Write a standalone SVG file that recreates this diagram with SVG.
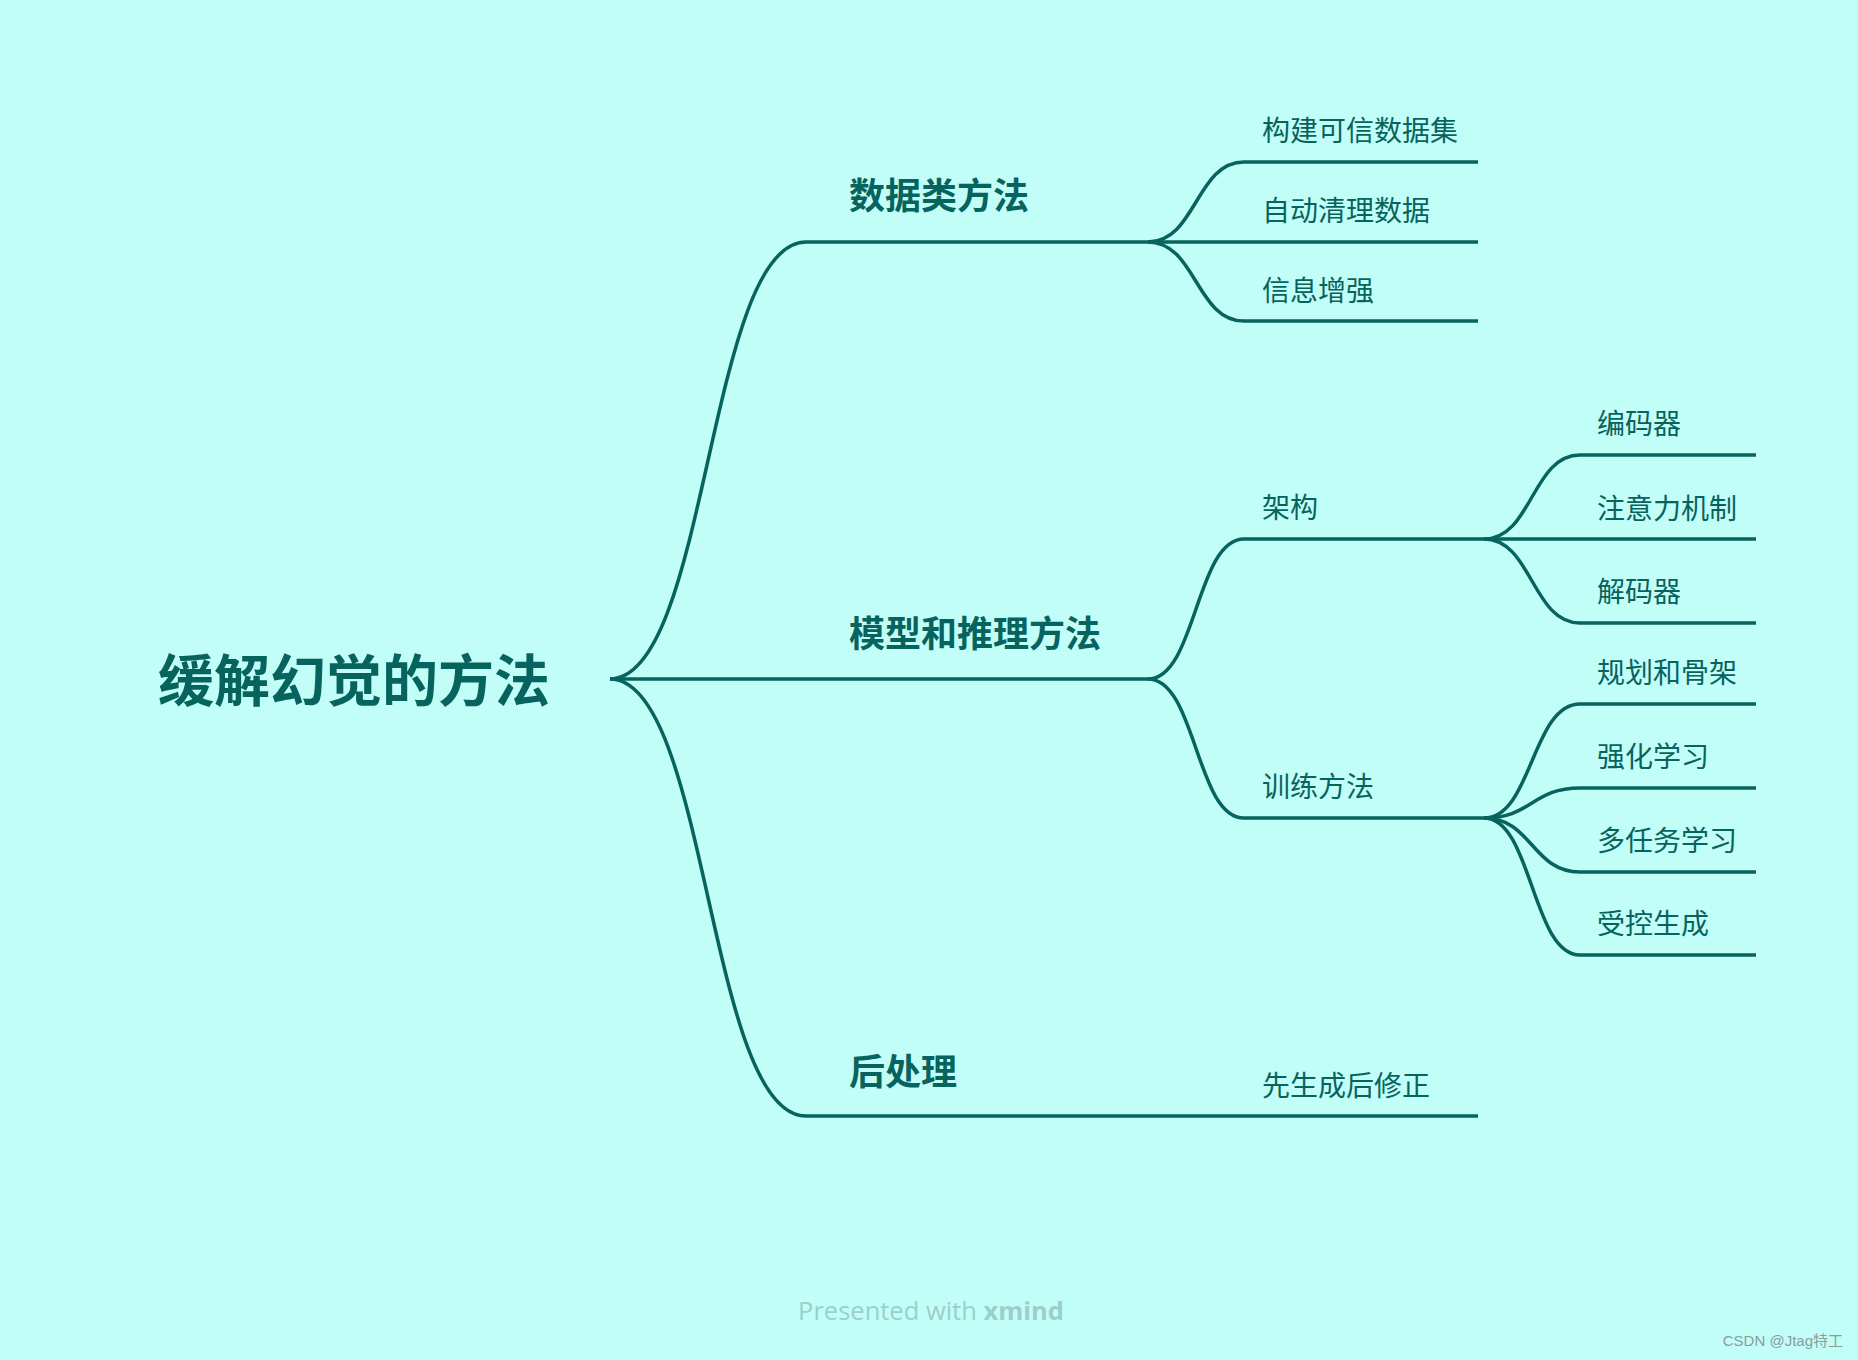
<svg xmlns="http://www.w3.org/2000/svg" width="1858" height="1360" viewBox="0 0 1858 1360">
<style>
.c{fill:none;stroke:#07635E;stroke-width:3.5;stroke-linecap:butt}
.t{font-family:"Noto Sans CJK SC","Noto Sans",sans-serif;fill:#07635E}
.root{font-size:56px;font-weight:700}
.m{font-size:36px;font-weight:700}
.s{font-size:28px;font-weight:400}
</style>
<rect width="1858" height="1360" fill="#C1FEF7"/>
<g id="connectors">
<path class="c" d="M610,679 C708,679 708,242 806,242 H1148"/>
<path class="c" d="M610,679 H1148"/>
<path class="c" d="M610,679 C708,679 708,1116 806,1116 H1478"/>
<path class="c" d="M1148,242 C1196,242 1196,162 1244,162 H1478"/>
<path class="c" d="M1148,242 H1478"/>
<path class="c" d="M1148,242 C1196,242 1196,321 1244,321 H1478"/>
<path class="c" d="M1148,679 C1196,679 1196,539 1244,539 H1484"/>
<path class="c" d="M1148,679 C1196,679 1196,818 1244,818 H1484"/>
<path class="c" d="M1484,539 C1532,539 1532,455 1580,455 H1756"/>
<path class="c" d="M1484,539 H1756"/>
<path class="c" d="M1484,539 C1532,539 1532,623 1580,623 H1756"/>
<path class="c" d="M1484,818 C1532,818 1532,704 1580,704 H1756"/>
<path class="c" d="M1484,818 C1532,818 1532,788 1580,788 H1756"/>
<path class="c" d="M1484,818 C1532,818 1532,872 1580,872 H1756"/>
<path class="c" d="M1484,818 C1532,818 1532,955 1580,955 H1756"/>
</g>
<g id="root"><text class="t root" x="158" y="701">缓解幻觉的方法</text></g>
<g id="n-data"><text class="t m" x="849" y="209">数据类方法</text></g>
<g id="n-model"><text class="t m" x="849" y="647">模型和推理方法</text></g>
<g id="n-post"><text class="t m" x="849" y="1085">后处理</text></g>
<g id="n-d1"><text class="t s" x="1262" y="141">构建可信数据集</text></g>
<g id="n-d2"><text class="t s" x="1262" y="221">自动清理数据</text></g>
<g id="n-d3"><text class="t s" x="1262" y="301">信息增强</text></g>
<g id="n-arch"><text class="t s" x="1262" y="518">架构</text></g>
<g id="n-train"><text class="t s" x="1262" y="797">训练方法</text></g>
<g id="n-a1"><text class="t s" x="1597" y="434">编码器</text></g>
<g id="n-a2"><text class="t s" x="1597" y="519">注意力机制</text></g>
<g id="n-a3"><text class="t s" x="1597" y="602">解码器</text></g>
<g id="n-t1"><text class="t s" x="1597" y="683">规划和骨架</text></g>
<g id="n-t2"><text class="t s" x="1597" y="767">强化学习</text></g>
<g id="n-t3"><text class="t s" x="1597" y="851">多任务学习</text></g>
<g id="n-t4"><text class="t s" x="1597" y="934">受控生成</text></g>
<g id="n-p1"><text class="t s" x="1262" y="1096">先生成后修正</text></g>
<text x="931" y="1320" text-anchor="middle" font-family="'Open Sans',sans-serif" font-size="25.5" fill="#9CCFC8">Presented with <tspan font-weight="700">xmind</tspan></text>
<text x="1843" y="1346" text-anchor="end" font-family="'Liberation Sans','Noto Sans CJK SC',sans-serif" font-size="15" fill="#8A9C9C">CSDN @Jtag特工</text>
</svg>
